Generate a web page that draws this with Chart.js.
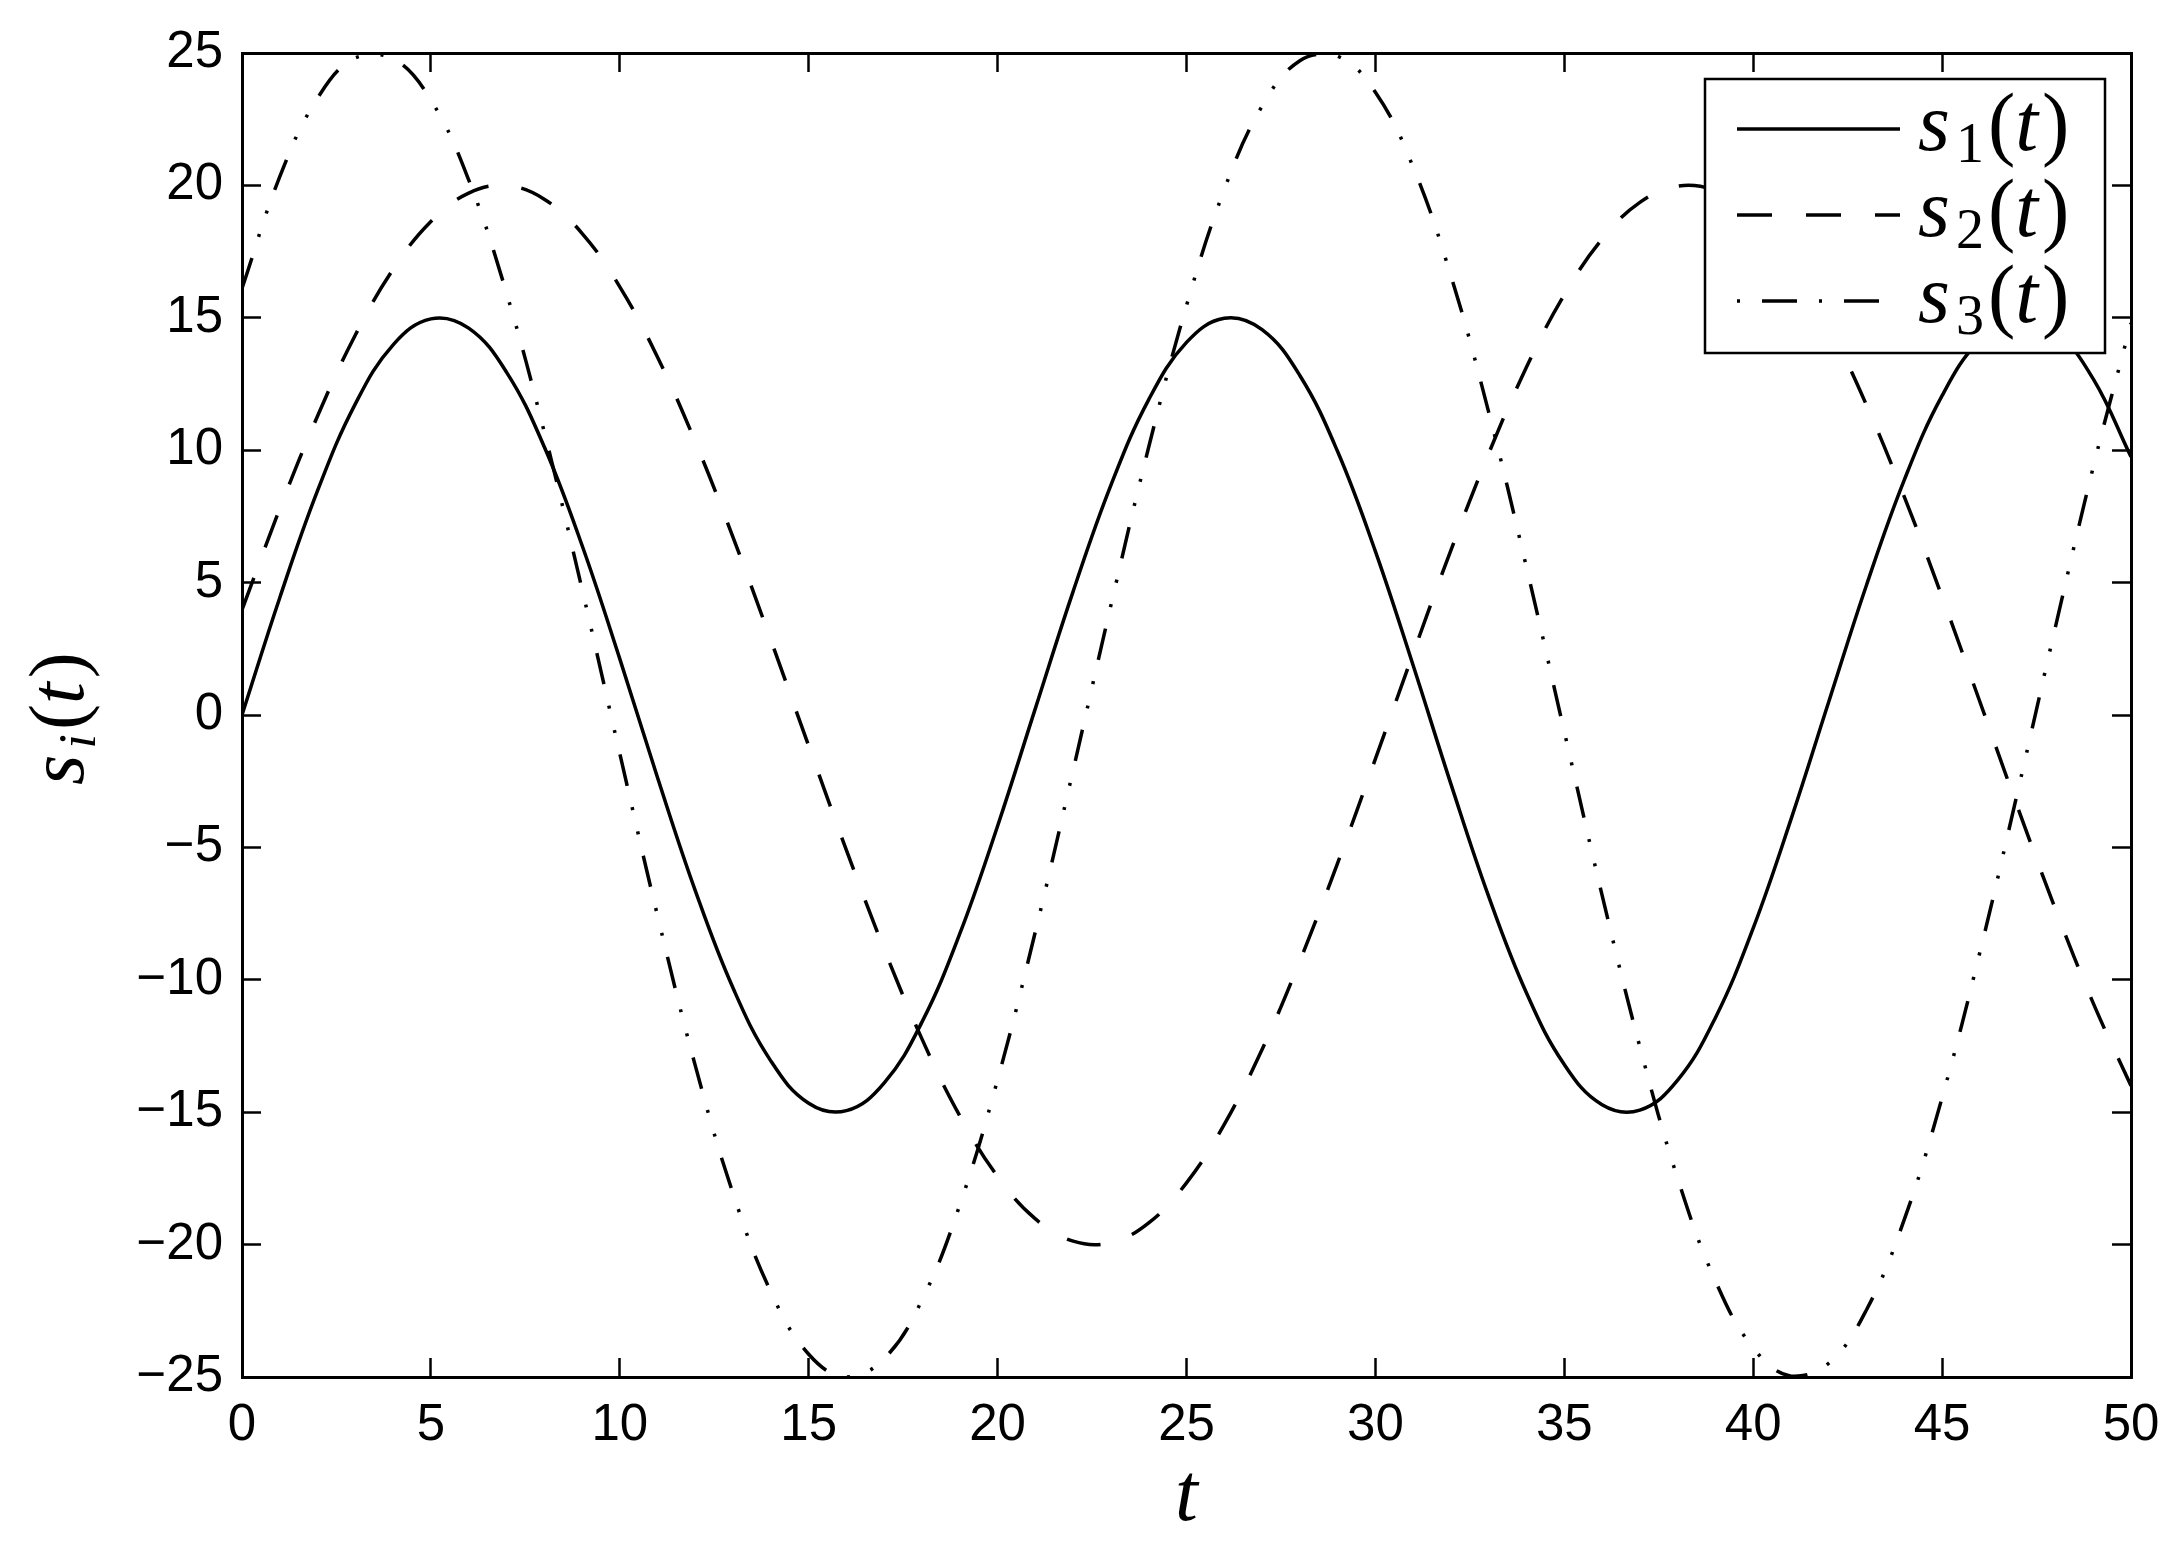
<!DOCTYPE html>
<html>
<head>
<meta charset="utf-8">
<script src="https://cdn.jsdelivr.net/npm/chart.js@4.4.0/dist/chart.umd.min.js"></script>
<style>
  html, body { margin: 0; padding: 0; background: #fff; }
  canvas { display: block; }
</style>
</head>
<body>
<canvas id="chart" width="2183" height="1549"></canvas>
<script>
// ===== DATA =====
const tValues = [0, 1, 2, 3, 4, 5, 6, 7, 8, 9, 10, 11, 12, 13, 14, 15, 16, 17, 18, 19, 20,
  21, 22, 23, 24, 25, 26, 27, 28, 29, 30, 31, 32, 33, 34, 35, 36, 37, 38, 39, 40,
  41, 42, 43, 44, 45, 46, 47, 48, 49, 50];

const s1Values = [0, 4.43, 8.47, 11.75, 13.98, 14.96, 14.61, 12.95, 10.13, 6.41, 2.12,
  -2.37, -6.64, -10.32, -13.07, -14.66, -14.94, -13.89, -11.59, -8.26, -4.19,
  0.25, 4.67, 8.68, 11.91, 14.07, 14.98, 14.55, 12.82, 9.95, 6.18,
  1.87, -2.61, -6.86, -10.50, -13.20, -14.72, -14.92, -13.79, -11.43, -8.05,
  -3.94, 0.50, 4.91, 8.88, 12.06, 14.16, 14.99, 14.49, 12.69, 9.75];

const s2Values = [3.97, 7.79, 11.29, 14.35, 16.83, 18.64, 19.71, 19.99, 19.48, 18.19, 16.17,
  13.51, 10.31, 6.70, 2.82, -1.17, -5.11, -8.85, -12.24, -15.14, -17.43,
  -19.03, -19.87, -19.92, -19.18, -17.67, -15.46, -12.63, -9.29, -5.59, -1.66,
  2.33, 6.23, 9.88, 13.14, 15.87, 17.97, 19.36, 19.97, 19.79, 18.81,
  17.09, 14.69, 11.70, 8.24, 4.46, 0.50, -3.49, -7.33, -10.88, -14.00];

const s3Values = [16.11, 20.33, 23.30, 24.82, 24.79, 23.22, 20.21, 15.94, 10.69, 4.76, -1.46,
  -7.59, -13.25, -18.08, -21.79, -24.14, -25.00, -24.30, -22.09, -18.50, -13.77,
  -8.18, -2.08, 4.15, 10.12, 15.46, 19.84, 22.99, 24.71, 24.88, 23.52,
  20.69, 16.58, 11.43, 5.57, -0.63, -6.80, -12.53, -17.50, -21.37, -23.90,
  -24.97, -24.48, -22.46, -19.05, -14.45, -8.96, -2.90, 3.33, 9.36, 14.80];

const xTicks = [0, 5, 10, 15, 20, 25, 30, 35, 40, 45, 50];
const yTicks = [-25, -20, -15, -10, -5, 0, 5, 10, 15, 20, 25];
const seriesSubs = ['1', '2', '3'];

// ===== STYLE =====
const SERIF = '"Liberation Serif", "Times New Roman", serif';
const SANS = '"Liberation Sans", Arial, Helvetica, sans-serif';
const seriesDash = [[], [34, 33], [32, 22, 3, 22, 3, 22]];
const legendDash = [[], [35, 34], [3, 22, 35, 22]];

function toPoints(ys) {
  return tValues.map((t, i) => ({ x: t, y: ys[i] }));
}

// one side of the MATLAB box: border line + inward ticks (+ labels on bottom/left)
function frameAxis(axis, position, values, showLabels, labelPad, size) {
  const range = axis === 'x'
    ? { min: xTicks[0], max: xTicks[xTicks.length - 1] }
    : { min: yTicks[0], max: yTicks[yTicks.length - 1] };
  return {
    type: 'linear',
    axis,
    position,
    ...range,
    afterBuildTicks: scale => { scale.ticks = values.map(v => ({ value: v })); },
    afterFit: scale => {
      if (axis === 'x') scale.height = size; else scale.width = size;
      // labels may overhang the plot edges; don't let them push the plot area in
      scale.paddingTop = scale.paddingBottom = scale.paddingLeft = scale.paddingRight = 0;
    },
    grid: {
      drawOnChartArea: false,
      drawTicks: true,
      tickLength: -19,   // negative -> ticks point into the plot
      tickWidth: 2.5,
      tickColor: '#000'
    },
    border: { display: true, color: '#000', width: 3 },
    ticks: {
      display: showLabels,
      padding: labelPad,
      color: '#000',
      autoSkip: false,
      maxRotation: 0,
      font: { family: SANS, size: 51, lineHeight: 1 },
      callback: v => (v < 0 ? '\u2212' + Math.abs(v) : String(v))
    }
  };
}

// s_k(t) in a LaTeX-ish look: italic s and t, upright parens
function drawMathLabel(ctx, sub, subItalic, x, y, size) {
  const parts = [
    { text: 's', italic: true, scale: 1, dy: 0, pad: 6 },
    { text: sub, italic: subItalic, scale: 0.68, dy: size * 0.15, pad: 4 },
    { text: '(', italic: false, scale: 1, dy: 0, pad: 0 },
    { text: 't', italic: true, scale: 1, dy: 0, pad: 4 },
    { text: ')', italic: false, scale: 1, dy: 0, pad: 0 }
  ];
  let cx = x;
  ctx.textAlign = 'left';
  ctx.textBaseline = 'alphabetic';
  parts.forEach(p => {
    ctx.font = `${p.italic ? 'italic ' : ''}${Math.round(size * p.scale)}px ${SERIF}`;
    ctx.fillText(p.text, cx, y + p.dy);
    cx += ctx.measureText(p.text).width + p.pad;
  });
}

const mathText = {
  id: 'mathText',
  afterDraw(chart) {
    const ctx = chart.ctx;
    const area = chart.chartArea;
    ctx.save();
    ctx.fillStyle = '#000';

    // x title
    ctx.font = `italic 82px ${SERIF}`;
    ctx.textAlign = 'center';
    ctx.textBaseline = 'alphabetic';
    ctx.fillText('t', (area.left + area.right) / 2, 1520);

    // y title, rotated
    ctx.save();
    ctx.translate(83, 785);
    ctx.rotate(-Math.PI / 2);
    drawMathLabel(ctx, 'i', true, 0, 0, 78);
    ctx.restore();

    // legend box
    const box = { x: 1705, y: 79, w: 400, h: 274 };
    ctx.fillStyle = '#fff';
    ctx.fillRect(box.x, box.y, box.w, box.h);
    ctx.strokeStyle = '#000';
    ctx.lineWidth = 2.5;
    ctx.strokeRect(box.x, box.y, box.w, box.h);

    chart.data.datasets.forEach((ds, i) => {
      const base = 150 + i * 86;
      ctx.beginPath();
      ctx.setLineDash(legendDash[i]);
      ctx.lineWidth = ds.borderWidth;
      ctx.lineCap = 'butt';
      ctx.moveTo(1737, base - 21);
      ctx.lineTo(1900, base - 21);
      ctx.stroke();
      ctx.setLineDash([]);
      ctx.fillStyle = '#000';
      drawMathLabel(ctx, seriesSubs[i], false, 1918, base, 82);
    });
    ctx.restore();
  }
};

new Chart(document.getElementById('chart'), {
  type: 'line',
  data: {
    datasets: [s1Values, s2Values, s3Values].map((ys, i) => ({
      label: `s${seriesSubs[i]}(t)`,
      data: toPoints(ys),
      borderColor: '#000',
      borderWidth: 3.5,
      borderDash: seriesDash[i],
      borderCapStyle: 'butt',
      pointRadius: 0,
      tension: 0.4,
      fill: false,
      xAxisID: 'x',
      yAxisID: 'y'
    }))
  },
  options: {
    responsive: false,
    animation: false,
    devicePixelRatio: 1,
    layout: { padding: 0 },
    plugins: {
      legend: { display: false },
      tooltip: { enabled: false }
    },
    scales: {
      x: frameAxis('x', 'bottom', xTicks, true, 42, 172),
      x2: frameAxis('x', 'top', xTicks, false, 0, 53),
      y: frameAxis('y', 'left', yTicks, true, 38, 242),
      y2: frameAxis('y', 'right', yTicks, false, 0, 52)
    }
  },
  plugins: [mathText]
});
</script>
</body>
</html>
